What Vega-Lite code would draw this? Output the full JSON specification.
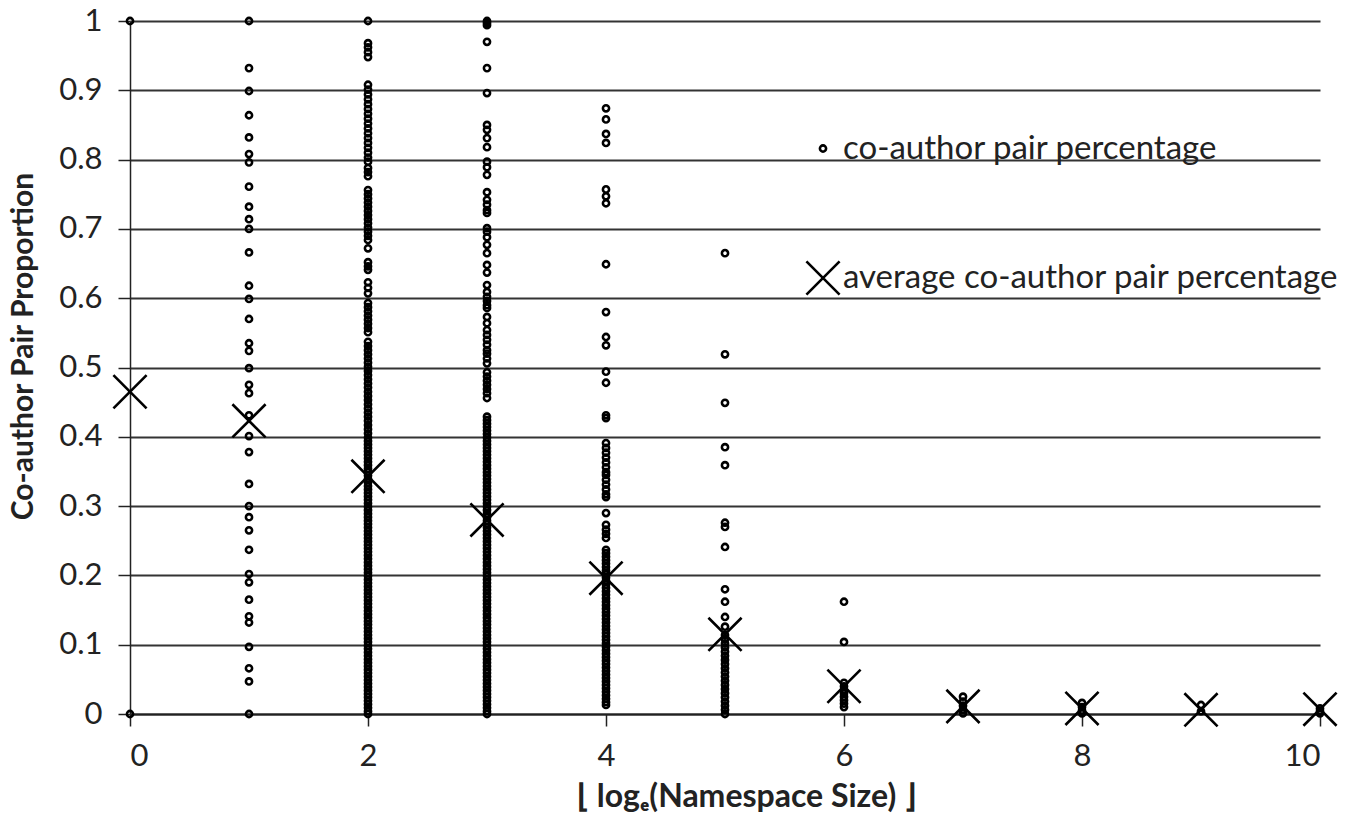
{
  "$schema": "https://vega.github.io/schema/vega-lite/v6.json",
  "width": 1190,
  "height": 693,
  "autosize": {"type": "none"},
  "padding": {"left": 130, "top": 21, "right": 40, "bottom": 118},
  "background": "white",
  "config": {
    "view": {"stroke": null},
    "font": "Lato"
  },
  "datasets": {
    "pts": [
      {"x":0,"y":1,"k":"p"},{"x":0,"y":0,"k":"p"},
      {"x":1,"y":1.0,"k":"p"},{"x":1,"y":0.932,"k":"p"},{"x":1,"y":0.899,"k":"p"},{"x":1,"y":0.864,"k":"p"},{"x":1,"y":0.832,"k":"p"},{"x":1,"y":0.808,"k":"p"},{"x":1,"y":0.796,"k":"p"},{"x":1,"y":0.761,"k":"p"},{"x":1,"y":0.732,"k":"p"},{"x":1,"y":0.714,"k":"p"},{"x":1,"y":0.7,"k":"p"},{"x":1,"y":0.666,"k":"p"},{"x":1,"y":0.618,"k":"p"},{"x":1,"y":0.599,"k":"p"},{"x":1,"y":0.57,"k":"p"},{"x":1,"y":0.535,"k":"p"},{"x":1,"y":0.524,"k":"p"},{"x":1,"y":0.499,"k":"p"},{"x":1,"y":0.475,"k":"p"},{"x":1,"y":0.463,"k":"p"},{"x":1,"y":0.431,"k":"p"},{"x":1,"y":0.401,"k":"p"},{"x":1,"y":0.378,"k":"p"},{"x":1,"y":0.332,"k":"p"},{"x":1,"y":0.3,"k":"p"},{"x":1,"y":0.284,"k":"p"},{"x":1,"y":0.265,"k":"p"},{"x":1,"y":0.237,"k":"p"},{"x":1,"y":0.202,"k":"p"},{"x":1,"y":0.19,"k":"p"},{"x":1,"y":0.165,"k":"p"},{"x":1,"y":0.141,"k":"p"},{"x":1,"y":0.132,"k":"p"},{"x":1,"y":0.097,"k":"p"},{"x":1,"y":0.066,"k":"p"},{"x":1,"y":0.047,"k":"p"},{"x":1,"y":0,"k":"p"},
      {"x":2,"y":1.0,"k":"p"},{"x":2,"y":0.968,"k":"p"},{"x":2,"y":0.962,"k":"p"},{"x":2,"y":0.955,"k":"p"},{"x":2,"y":0.948,"k":"p"},
      {"x":2,"y":0.908,"k":"p"},{"x":2,"y":0.901,"k":"p"},{"x":2,"y":0.894,"k":"p"},{"x":2,"y":0.887,"k":"p"},{"x":2,"y":0.88,"k":"p"},{"x":2,"y":0.873,"k":"p"},{"x":2,"y":0.866,"k":"p"},{"x":2,"y":0.859,"k":"p"},{"x":2,"y":0.852,"k":"p"},{"x":2,"y":0.845,"k":"p"},{"x":2,"y":0.838,"k":"p"},{"x":2,"y":0.831,"k":"p"},{"x":2,"y":0.824,"k":"p"},{"x":2,"y":0.817,"k":"p"},{"x":2,"y":0.81,"k":"p"},{"x":2,"y":0.803,"k":"p"},{"x":2,"y":0.797,"k":"p"},{"x":2,"y":0.788,"k":"p"},{"x":2,"y":0.782,"k":"p"},{"x":2,"y":0.776,"k":"p"},
      {"x":2,"y":0.756,"k":"p"},{"x":2,"y":0.75,"k":"p"},{"x":2,"y":0.744,"k":"p"},{"x":2,"y":0.738,"k":"p"},{"x":2,"y":0.732,"k":"p"},{"x":2,"y":0.726,"k":"p"},{"x":2,"y":0.72,"k":"p"},{"x":2,"y":0.714,"k":"p"},{"x":2,"y":0.708,"k":"p"},{"x":2,"y":0.702,"k":"p"},{"x":2,"y":0.696,"k":"p"},{"x":2,"y":0.69,"k":"p"},{"x":2,"y":0.684,"k":"p"},{"x":2,"y":0.672,"k":"p"},
      {"x":2,"y":0.652,"k":"p"},{"x":2,"y":0.646,"k":"p"},{"x":2,"y":0.641,"k":"p"},{"x":2,"y":0.623,"k":"p"},{"x":2,"y":0.615,"k":"p"},{"x":2,"y":0.607,"k":"p"},{"x":2,"y":0.593,"k":"p"},{"x":2,"y":0.587,"k":"p"},{"x":2,"y":0.581,"k":"p"},{"x":2,"y":0.575,"k":"p"},{"x":2,"y":0.569,"k":"p"},{"x":2,"y":0.563,"k":"p"},{"x":2,"y":0.557,"k":"p"},{"x":2,"y":0.551,"k":"p"},
      {"x":2,"y":0.537,"k":"p"},{"x":2,"y":0.531,"k":"p"},{"x":2,"y":0.525,"k":"p"},{"x":2,"y":0.519,"k":"p"},{"x":2,"y":0.513,"k":"p"},{"x":2,"y":0.507,"k":"p"},{"x":2,"y":0.501,"k":"p"},{"x":2,"y":0.495,"k":"p"},{"x":2,"y":0.489,"k":"p"},{"x":2,"y":0.483,"k":"p"},{"x":2,"y":0.477,"k":"p"},{"x":2,"y":0.471,"k":"p"},{"x":2,"y":0.465,"k":"p"},{"x":2,"y":0.459,"k":"p"},{"x":2,"y":0.453,"k":"p"},{"x":2,"y":0.447,"k":"p"},{"x":2,"y":0.441,"k":"p"},{"x":2,"y":0.435,"k":"p"},{"x":2,"y":0.429,"k":"p"},{"x":2,"y":0.423,"k":"p"},{"x":2,"y":0.417,"k":"p"},{"x":2,"y":0.411,"k":"p"},{"x":2,"y":0.405,"k":"p"},{"x":2,"y":0.399,"k":"p"},
      {"x":2,"y":0.394,"k":"p"},{"x":2,"y":0.389,"k":"p"},{"x":2,"y":0.384,"k":"p"},{"x":2,"y":0.379,"k":"p"},{"x":2,"y":0.374,"k":"p"},{"x":2,"y":0.369,"k":"p"},{"x":2,"y":0.364,"k":"p"},{"x":2,"y":0.359,"k":"p"},{"x":2,"y":0.354,"k":"p"},{"x":2,"y":0.349,"k":"p"},{"x":2,"y":0.344,"k":"p"},{"x":2,"y":0.339,"k":"p"},{"x":2,"y":0.334,"k":"p"},{"x":2,"y":0.329,"k":"p"},{"x":2,"y":0.324,"k":"p"},{"x":2,"y":0.319,"k":"p"},{"x":2,"y":0.314,"k":"p"},{"x":2,"y":0.309,"k":"p"},{"x":2,"y":0.304,"k":"p"},{"x":2,"y":0.299,"k":"p"},{"x":2,"y":0.294,"k":"p"},{"x":2,"y":0.289,"k":"p"},{"x":2,"y":0.284,"k":"p"},{"x":2,"y":0.279,"k":"p"},{"x":2,"y":0.274,"k":"p"},{"x":2,"y":0.269,"k":"p"},{"x":2,"y":0.264,"k":"p"},{"x":2,"y":0.259,"k":"p"},{"x":2,"y":0.254,"k":"p"},{"x":2,"y":0.249,"k":"p"},{"x":2,"y":0.244,"k":"p"},{"x":2,"y":0.239,"k":"p"},{"x":2,"y":0.234,"k":"p"},{"x":2,"y":0.229,"k":"p"},{"x":2,"y":0.224,"k":"p"},{"x":2,"y":0.219,"k":"p"},{"x":2,"y":0.214,"k":"p"},{"x":2,"y":0.209,"k":"p"},{"x":2,"y":0.204,"k":"p"},{"x":2,"y":0.199,"k":"p"},{"x":2,"y":0.194,"k":"p"},{"x":2,"y":0.189,"k":"p"},{"x":2,"y":0.184,"k":"p"},{"x":2,"y":0.179,"k":"p"},{"x":2,"y":0.174,"k":"p"},{"x":2,"y":0.169,"k":"p"},{"x":2,"y":0.164,"k":"p"},{"x":2,"y":0.159,"k":"p"},{"x":2,"y":0.154,"k":"p"},{"x":2,"y":0.149,"k":"p"},{"x":2,"y":0.144,"k":"p"},{"x":2,"y":0.139,"k":"p"},{"x":2,"y":0.134,"k":"p"},{"x":2,"y":0.129,"k":"p"},{"x":2,"y":0.124,"k":"p"},{"x":2,"y":0.119,"k":"p"},{"x":2,"y":0.114,"k":"p"},{"x":2,"y":0.109,"k":"p"},{"x":2,"y":0.104,"k":"p"},{"x":2,"y":0.099,"k":"p"},{"x":2,"y":0.094,"k":"p"},{"x":2,"y":0.089,"k":"p"},{"x":2,"y":0.084,"k":"p"},{"x":2,"y":0.079,"k":"p"},{"x":2,"y":0.074,"k":"p"},{"x":2,"y":0.069,"k":"p"},{"x":2,"y":0.064,"k":"p"},{"x":2,"y":0.059,"k":"p"},{"x":2,"y":0.054,"k":"p"},{"x":2,"y":0.049,"k":"p"},{"x":2,"y":0.044,"k":"p"},{"x":2,"y":0.039,"k":"p"},{"x":2,"y":0.034,"k":"p"},{"x":2,"y":0.029,"k":"p"},{"x":2,"y":0.024,"k":"p"},{"x":2,"y":0.019,"k":"p"},{"x":2,"y":0.014,"k":"p"},{"x":2,"y":0.009,"k":"p"},{"x":2,"y":0.004,"k":"p"},{"x":2,"y":0,"k":"p"},
      {"x":3,"y":1.0,"k":"p"},{"x":3,"y":0.997,"k":"p"},{"x":3,"y":0.994,"k":"p"},{"x":3,"y":0.97,"k":"p"},{"x":3,"y":0.932,"k":"p"},{"x":3,"y":0.896,"k":"p"},{"x":3,"y":0.85,"k":"p"},{"x":3,"y":0.843,"k":"p"},{"x":3,"y":0.831,"k":"p"},{"x":3,"y":0.818,"k":"p"},{"x":3,"y":0.797,"k":"p"},{"x":3,"y":0.789,"k":"p"},{"x":3,"y":0.778,"k":"p"},{"x":3,"y":0.753,"k":"p"},{"x":3,"y":0.742,"k":"p"},{"x":3,"y":0.735,"k":"p"},{"x":3,"y":0.727,"k":"p"},{"x":3,"y":0.723,"k":"p"},{"x":3,"y":0.701,"k":"p"},{"x":3,"y":0.696,"k":"p"},{"x":3,"y":0.688,"k":"p"},{"x":3,"y":0.677,"k":"p"},{"x":3,"y":0.665,"k":"p"},{"x":3,"y":0.648,"k":"p"},{"x":3,"y":0.637,"k":"p"},{"x":3,"y":0.619,"k":"p"},{"x":3,"y":0.609,"k":"p"},{"x":3,"y":0.602,"k":"p"},{"x":3,"y":0.596,"k":"p"},{"x":3,"y":0.59,"k":"p"},{"x":3,"y":0.586,"k":"p"},{"x":3,"y":0.573,"k":"p"},{"x":3,"y":0.564,"k":"p"},{"x":3,"y":0.554,"k":"p"},{"x":3,"y":0.547,"k":"p"},{"x":3,"y":0.54,"k":"p"},{"x":3,"y":0.533,"k":"p"},{"x":3,"y":0.525,"k":"p"},{"x":3,"y":0.52,"k":"p"},{"x":3,"y":0.513,"k":"p"},{"x":3,"y":0.506,"k":"p"},{"x":3,"y":0.493,"k":"p"},{"x":3,"y":0.487,"k":"p"},{"x":3,"y":0.481,"k":"p"},{"x":3,"y":0.475,"k":"p"},{"x":3,"y":0.469,"k":"p"},{"x":3,"y":0.463,"k":"p"},{"x":3,"y":0.456,"k":"p"},
      {"x":3,"y":0.429,"k":"p"},{"x":3,"y":0.424,"k":"p"},{"x":3,"y":0.419,"k":"p"},{"x":3,"y":0.414,"k":"p"},{"x":3,"y":0.409,"k":"p"},{"x":3,"y":0.404,"k":"p"},{"x":3,"y":0.399,"k":"p"},
      {"x":3,"y":0.394,"k":"p"},{"x":3,"y":0.389,"k":"p"},{"x":3,"y":0.384,"k":"p"},{"x":3,"y":0.379,"k":"p"},{"x":3,"y":0.374,"k":"p"},{"x":3,"y":0.369,"k":"p"},{"x":3,"y":0.364,"k":"p"},{"x":3,"y":0.359,"k":"p"},{"x":3,"y":0.354,"k":"p"},{"x":3,"y":0.349,"k":"p"},{"x":3,"y":0.344,"k":"p"},{"x":3,"y":0.339,"k":"p"},{"x":3,"y":0.334,"k":"p"},{"x":3,"y":0.329,"k":"p"},{"x":3,"y":0.324,"k":"p"},{"x":3,"y":0.319,"k":"p"},{"x":3,"y":0.314,"k":"p"},{"x":3,"y":0.309,"k":"p"},{"x":3,"y":0.304,"k":"p"},{"x":3,"y":0.299,"k":"p"},{"x":3,"y":0.294,"k":"p"},{"x":3,"y":0.289,"k":"p"},{"x":3,"y":0.284,"k":"p"},{"x":3,"y":0.279,"k":"p"},{"x":3,"y":0.274,"k":"p"},{"x":3,"y":0.269,"k":"p"},{"x":3,"y":0.264,"k":"p"},{"x":3,"y":0.259,"k":"p"},{"x":3,"y":0.254,"k":"p"},{"x":3,"y":0.249,"k":"p"},{"x":3,"y":0.244,"k":"p"},{"x":3,"y":0.239,"k":"p"},{"x":3,"y":0.234,"k":"p"},{"x":3,"y":0.229,"k":"p"},{"x":3,"y":0.224,"k":"p"},{"x":3,"y":0.219,"k":"p"},{"x":3,"y":0.214,"k":"p"},{"x":3,"y":0.209,"k":"p"},{"x":3,"y":0.204,"k":"p"},{"x":3,"y":0.199,"k":"p"},{"x":3,"y":0.194,"k":"p"},{"x":3,"y":0.189,"k":"p"},{"x":3,"y":0.184,"k":"p"},{"x":3,"y":0.179,"k":"p"},{"x":3,"y":0.174,"k":"p"},{"x":3,"y":0.169,"k":"p"},{"x":3,"y":0.164,"k":"p"},{"x":3,"y":0.159,"k":"p"},{"x":3,"y":0.154,"k":"p"},{"x":3,"y":0.149,"k":"p"},{"x":3,"y":0.144,"k":"p"},{"x":3,"y":0.139,"k":"p"},{"x":3,"y":0.134,"k":"p"},{"x":3,"y":0.129,"k":"p"},{"x":3,"y":0.124,"k":"p"},{"x":3,"y":0.119,"k":"p"},{"x":3,"y":0.114,"k":"p"},{"x":3,"y":0.109,"k":"p"},{"x":3,"y":0.104,"k":"p"},{"x":3,"y":0.099,"k":"p"},{"x":3,"y":0.094,"k":"p"},{"x":3,"y":0.089,"k":"p"},{"x":3,"y":0.084,"k":"p"},{"x":3,"y":0.079,"k":"p"},{"x":3,"y":0.074,"k":"p"},{"x":3,"y":0.069,"k":"p"},{"x":3,"y":0.064,"k":"p"},{"x":3,"y":0.059,"k":"p"},{"x":3,"y":0.054,"k":"p"},{"x":3,"y":0.049,"k":"p"},{"x":3,"y":0.044,"k":"p"},{"x":3,"y":0.039,"k":"p"},{"x":3,"y":0.034,"k":"p"},{"x":3,"y":0.029,"k":"p"},{"x":3,"y":0.024,"k":"p"},{"x":3,"y":0.019,"k":"p"},{"x":3,"y":0.014,"k":"p"},{"x":3,"y":0.009,"k":"p"},{"x":3,"y":0.004,"k":"p"},{"x":3,"y":0,"k":"p"},
      {"x":4,"y":0.874,"k":"p"},{"x":4,"y":0.858,"k":"p"},{"x":4,"y":0.837,"k":"p"},{"x":4,"y":0.824,"k":"p"},{"x":4,"y":0.757,"k":"p"},{"x":4,"y":0.747,"k":"p"},{"x":4,"y":0.737,"k":"p"},{"x":4,"y":0.649,"k":"p"},{"x":4,"y":0.58,"k":"p"},{"x":4,"y":0.544,"k":"p"},{"x":4,"y":0.532,"k":"p"},{"x":4,"y":0.494,"k":"p"},{"x":4,"y":0.478,"k":"p"},{"x":4,"y":0.431,"k":"p"},{"x":4,"y":0.427,"k":"p"},{"x":4,"y":0.391,"k":"p"},{"x":4,"y":0.384,"k":"p"},{"x":4,"y":0.377,"k":"p"},{"x":4,"y":0.37,"k":"p"},{"x":4,"y":0.363,"k":"p"},{"x":4,"y":0.356,"k":"p"},{"x":4,"y":0.349,"k":"p"},{"x":4,"y":0.345,"k":"p"},{"x":4,"y":0.338,"k":"p"},{"x":4,"y":0.331,"k":"p"},{"x":4,"y":0.324,"k":"p"},{"x":4,"y":0.317,"k":"p"},{"x":4,"y":0.313,"k":"p"},{"x":4,"y":0.29,"k":"p"},{"x":4,"y":0.273,"k":"p"},{"x":4,"y":0.266,"k":"p"},{"x":4,"y":0.26,"k":"p"},{"x":4,"y":0.254,"k":"p"},
      {"x":4,"y":0.237,"k":"p"},{"x":4,"y":0.232,"k":"p"},{"x":4,"y":0.227,"k":"p"},{"x":4,"y":0.222,"k":"p"},{"x":4,"y":0.217,"k":"p"},{"x":4,"y":0.212,"k":"p"},{"x":4,"y":0.207,"k":"p"},{"x":4,"y":0.202,"k":"p"},{"x":4,"y":0.197,"k":"p"},{"x":4,"y":0.192,"k":"p"},{"x":4,"y":0.187,"k":"p"},{"x":4,"y":0.182,"k":"p"},{"x":4,"y":0.177,"k":"p"},{"x":4,"y":0.172,"k":"p"},{"x":4,"y":0.167,"k":"p"},{"x":4,"y":0.162,"k":"p"},{"x":4,"y":0.157,"k":"p"},{"x":4,"y":0.152,"k":"p"},{"x":4,"y":0.147,"k":"p"},{"x":4,"y":0.142,"k":"p"},{"x":4,"y":0.137,"k":"p"},{"x":4,"y":0.132,"k":"p"},{"x":4,"y":0.127,"k":"p"},{"x":4,"y":0.122,"k":"p"},{"x":4,"y":0.117,"k":"p"},{"x":4,"y":0.112,"k":"p"},{"x":4,"y":0.107,"k":"p"},{"x":4,"y":0.102,"k":"p"},{"x":4,"y":0.097,"k":"p"},{"x":4,"y":0.092,"k":"p"},{"x":4,"y":0.087,"k":"p"},{"x":4,"y":0.082,"k":"p"},{"x":4,"y":0.077,"k":"p"},{"x":4,"y":0.072,"k":"p"},{"x":4,"y":0.067,"k":"p"},{"x":4,"y":0.062,"k":"p"},{"x":4,"y":0.057,"k":"p"},{"x":4,"y":0.052,"k":"p"},{"x":4,"y":0.047,"k":"p"},{"x":4,"y":0.042,"k":"p"},{"x":4,"y":0.037,"k":"p"},{"x":4,"y":0.032,"k":"p"},{"x":4,"y":0.027,"k":"p"},{"x":4,"y":0.022,"k":"p"},{"x":4,"y":0.017,"k":"p"},{"x":4,"y":0.013,"k":"p"},
      {"x":5,"y":0.665,"k":"p"},{"x":5,"y":0.519,"k":"p"},{"x":5,"y":0.449,"k":"p"},{"x":5,"y":0.385,"k":"p"},{"x":5,"y":0.359,"k":"p"},{"x":5,"y":0.276,"k":"p"},{"x":5,"y":0.27,"k":"p"},{"x":5,"y":0.241,"k":"p"},{"x":5,"y":0.18,"k":"p"},{"x":5,"y":0.162,"k":"p"},{"x":5,"y":0.14,"k":"p"},{"x":5,"y":0.126,"k":"p"},{"x":5,"y":0.114,"k":"p"},{"x":5,"y":0.108,"k":"p"},{"x":5,"y":0.102,"k":"p"},{"x":5,"y":0.096,"k":"p"},{"x":5,"y":0.09,"k":"p"},{"x":5,"y":0.084,"k":"p"},{"x":5,"y":0.078,"k":"p"},{"x":5,"y":0.072,"k":"p"},{"x":5,"y":0.066,"k":"p"},{"x":5,"y":0.06,"k":"p"},{"x":5,"y":0.054,"k":"p"},{"x":5,"y":0.048,"k":"p"},{"x":5,"y":0.042,"k":"p"},{"x":5,"y":0.036,"k":"p"},{"x":5,"y":0.03,"k":"p"},{"x":5,"y":0.024,"k":"p"},{"x":5,"y":0.018,"k":"p"},{"x":5,"y":0.012,"k":"p"},{"x":5,"y":0.006,"k":"p"},{"x":5,"y":0,"k":"p"},
      {"x":6,"y":0.162,"k":"p"},{"x":6,"y":0.104,"k":"p"},{"x":6,"y":0.045,"k":"p"},{"x":6,"y":0.04,"k":"p"},{"x":6,"y":0.035,"k":"p"},{"x":6,"y":0.03,"k":"p"},{"x":6,"y":0.025,"k":"p"},{"x":6,"y":0.02,"k":"p"},{"x":6,"y":0.015,"k":"p"},{"x":6,"y":0.01,"k":"p"},
      {"x":7,"y":0.025,"k":"p"},{"x":7,"y":0.018,"k":"p"},{"x":7,"y":0.012,"k":"p"},{"x":7,"y":0.006,"k":"p"},{"x":7,"y":0.001,"k":"p"},
      {"x":8,"y":0.016,"k":"p"},{"x":8,"y":0.01,"k":"p"},{"x":8,"y":0.005,"k":"p"},{"x":8,"y":0.001,"k":"p"},
      {"x":9,"y":0.013,"k":"p"},{"x":9,"y":0.004,"k":"p"},
      {"x":10,"y":0.008,"k":"p"},{"x":10,"y":0.004,"k":"p"},{"x":10,"y":0.001,"k":"p"},
      {"x":0,"y":0.465,"k":"a"},{"x":1,"y":0.423,"k":"a"},{"x":2,"y":0.343,"k":"a"},{"x":3,"y":0.28,"k":"a"},{"x":4,"y":0.196,"k":"a"},{"x":5,"y":0.115,"k":"a"},{"x":6,"y":0.04,"k":"a"},{"x":7,"y":0.011,"k":"a"},{"x":8,"y":0.008,"k":"a"},{"x":9,"y":0.006,"k":"a"},{"x":10,"y":0.007,"k":"a"}
    ]
  },
  "data": {"name": "pts"},
  "mark": {"type": "point", "filled": false, "color": "black", "opacity": 1, "strokeWidth": 2.6, "clip": false},
  "encoding": {
    "x": {
      "field": "x", "type": "quantitative",
      "scale": {"domain": [0, 10], "nice": false, "zero": false},
      "axis": {
        "values": [0, 2, 4, 6, 8, 10],
        "grid": false,
        "domainColor": "#222", "domainWidth": 2,
        "tickColor": "#222", "tickWidth": 1.5, "tickSize": 12,
        "labelFont": "Lato", "labelFontSize": 31, "labelColor": "#222", "labelPadding": 15,
        "title": "⌊ logₑ(Namespace Size) ⌋",
        "titleFont": "Lato", "titleFontSize": 32, "titleFontWeight": "bold", "titleColor": "#222", "titlePadding": 10,
        "titleX": 616
      }
    },
    "y": {
      "field": "y", "type": "quantitative",
      "scale": {"domain": [0, 1], "nice": false},
      "axis": {
        "values": [0, 0.1, 0.2, 0.3, 0.4, 0.5, 0.6, 0.7, 0.8, 0.9, 1],
        "labelExpr": "'' + datum.value",
        "grid": true, "gridColor": "#333", "gridWidth": 2,
        "domainColor": "#222", "domainWidth": 1.5,
        "tickColor": "#222", "tickWidth": 1.5, "tickSize": 12,
        "labelFont": "Lato", "labelFontSize": 31, "labelColor": "#222", "labelPadding": 16,
        "title": "Co-author Pair Proportion",
        "titleFont": "Lato", "titleFontSize": 30, "titleFontWeight": "bold", "titleColor": "#222",
        "titleX": -98, "titleY": 325, "titleBaseline": "alphabetic"
      }
    },
    "shape": {
      "field": "k", "type": "nominal",
      "scale": {"domain": ["p", "a"], "range": ["circle", "M-1,-1L1,1M-1,1L1,-1"]},
      "legend": {
        "orient": "none", "legendX": 675, "legendY": 111, "direction": "vertical",
        "title": null,
        "labelExpr": "datum.label == 'p' ? 'co-author pair percentage' : 'average co-author pair percentage'",
        "labelFont": "Lato", "labelFontSize": 33, "labelColor": "#222", "labelOffset": 2, "labelLimit": 800,
        "rowPadding": 90, "symbolStrokeColor": "black", "symbolFillColor": "white", "symbolStrokeWidth": 2.6
      }
    },
    "size": {
      "field": "k", "type": "nominal",
      "scale": {"domain": ["p", "a"], "range": [38, 1100]}
    }
  }
}
